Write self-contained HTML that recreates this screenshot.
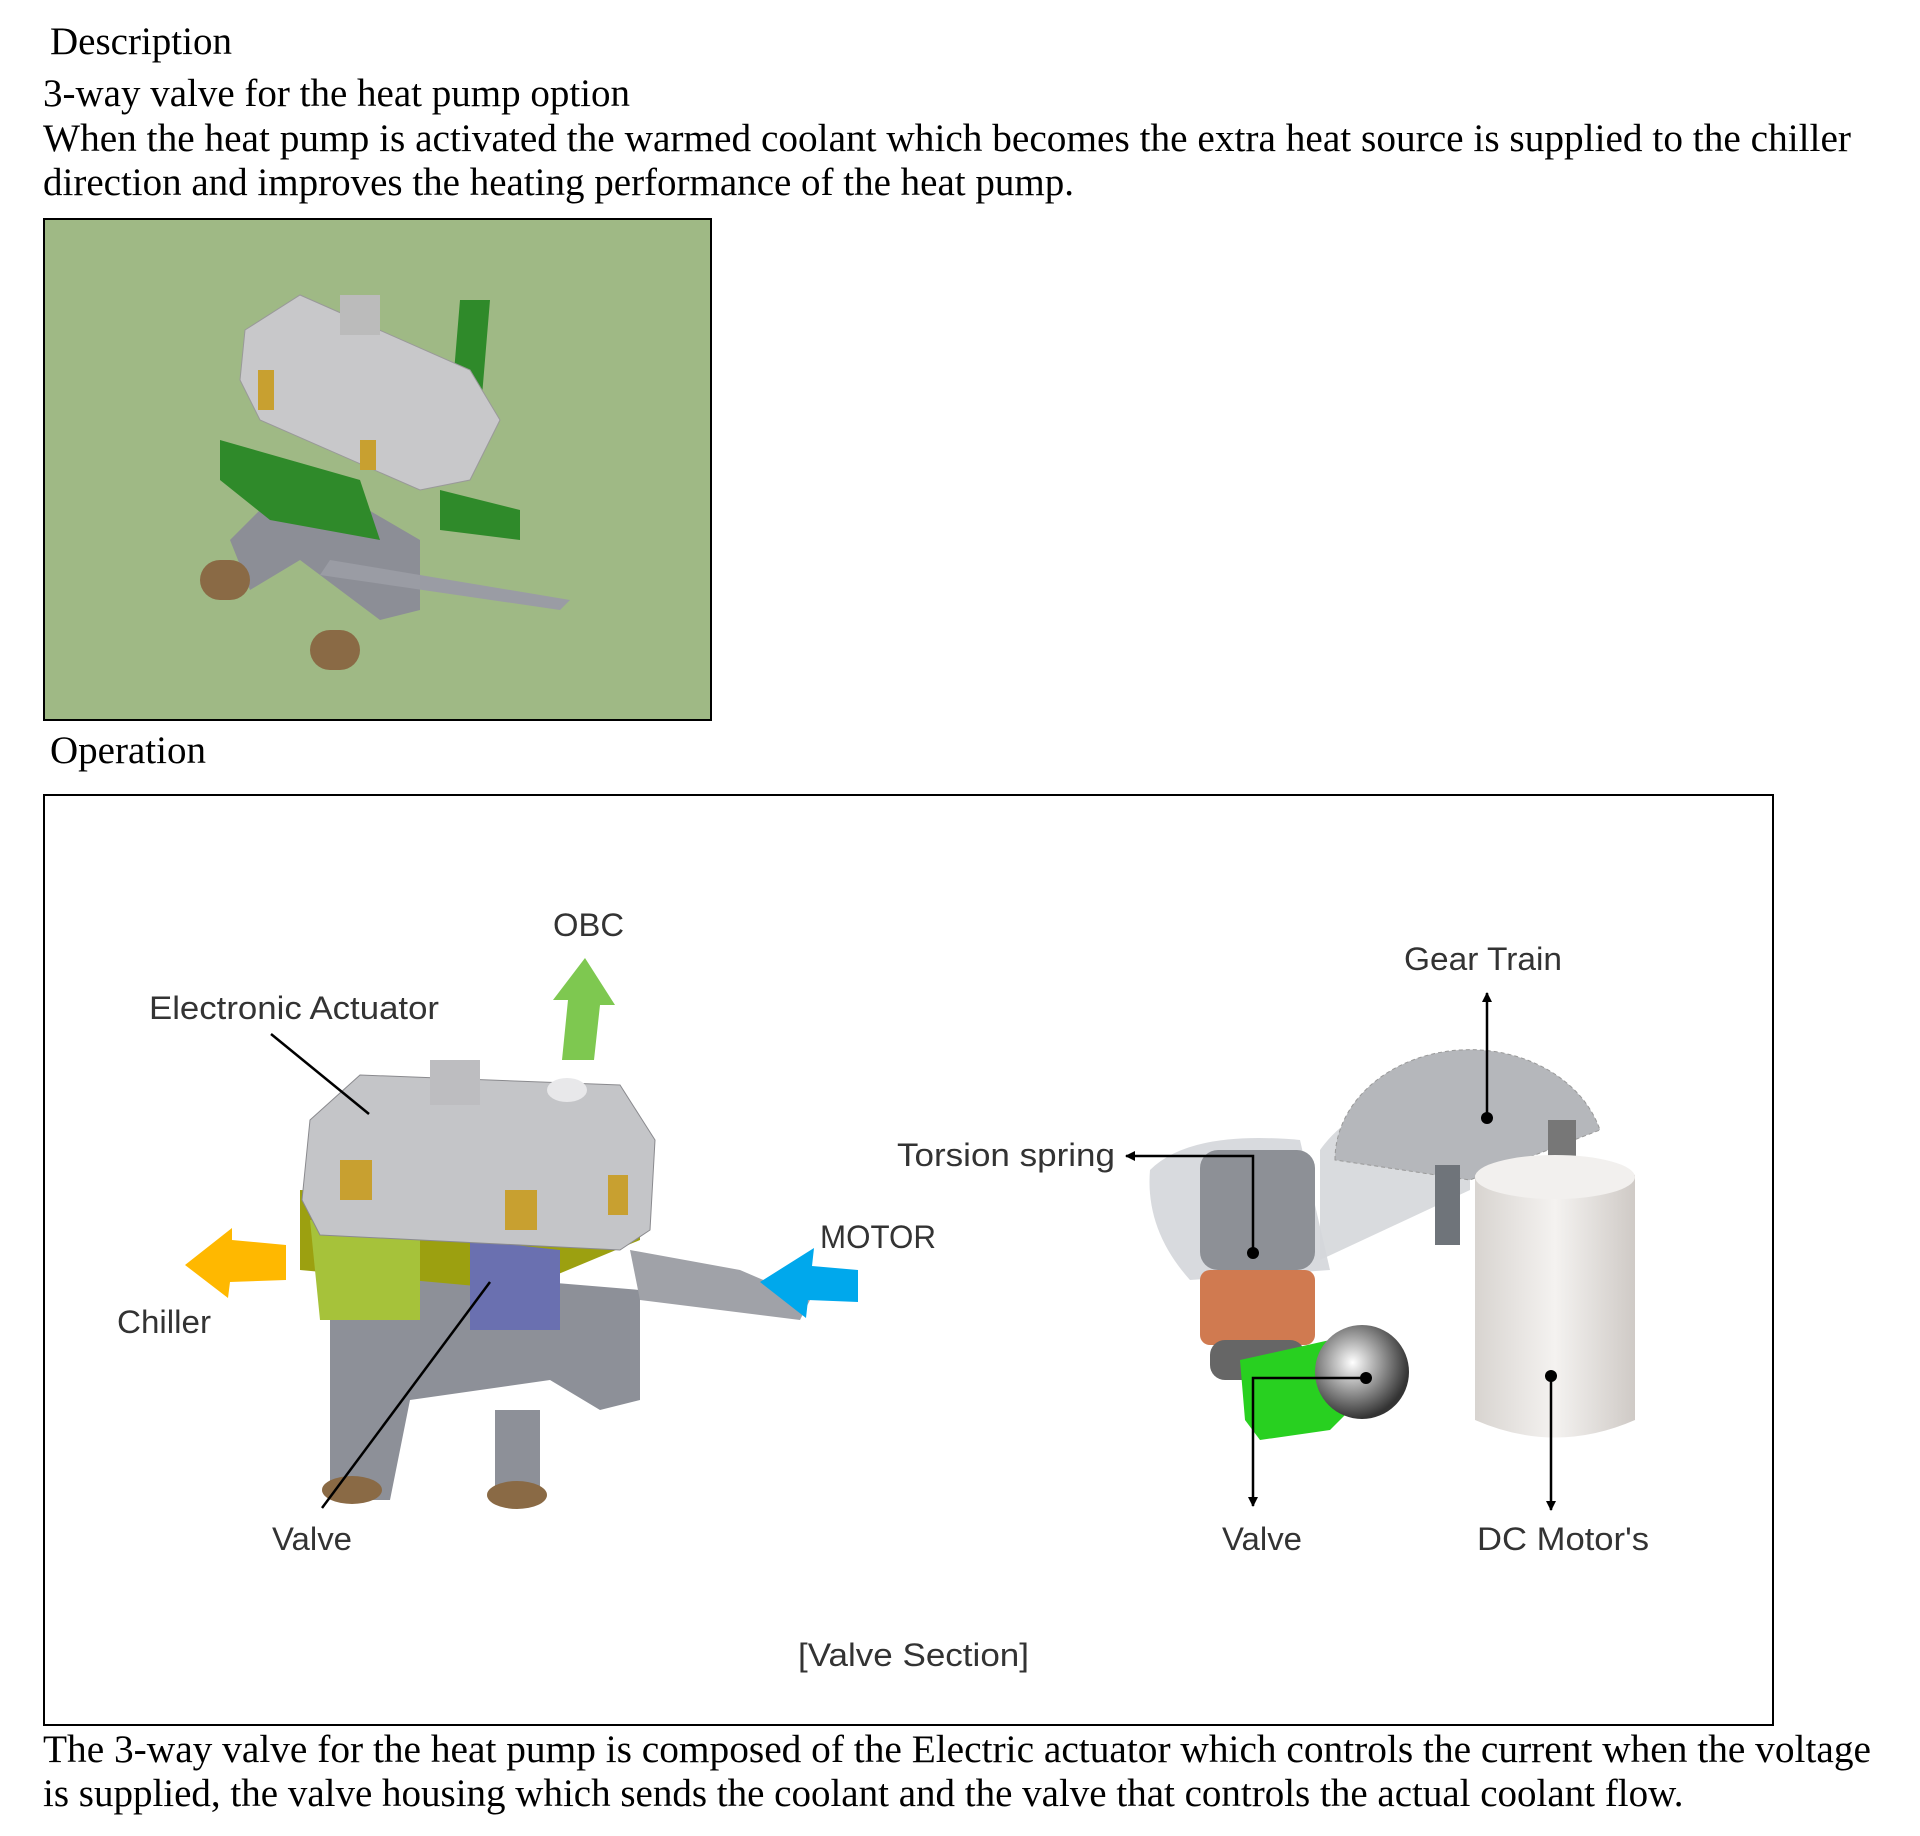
<!DOCTYPE html>
<html><head><meta charset="utf-8"><style>
html,body{margin:0;padding:0;background:#fff;}
body{width:1920px;height:1836px;position:relative;overflow:hidden;}
svg{position:absolute;left:0;top:0;}
.s{font-family:"Liberation Serif",serif;font-size:39px;fill:#000;}
.l{font-family:"Liberation Sans",sans-serif;font-size:32px;fill:#333;}
</style></head><body>
<svg width="1920" height="1836" viewBox="0 0 1920 1836">
<defs>
<marker id="ah" markerWidth="10" markerHeight="10" refX="9" refY="5" orient="auto" markerUnits="userSpaceOnUse"><path d="M0,0 L10,5 L0,10 Z" fill="#000"/></marker>
<linearGradient id="cyl" x1="0" x2="1"><stop offset="0" stop-color="#d8d4d0"/><stop offset="0.5" stop-color="#f4f2f0"/><stop offset="1" stop-color="#cfcac6"/></linearGradient>
<radialGradient id="ball" cx="0.4" cy="0.4" r="0.6"><stop offset="0" stop-color="#fff"/><stop offset="0.5" stop-color="#999"/><stop offset="1" stop-color="#333"/></radialGradient>
</defs>
<text class="s" x="50" y="54">Description</text>
<text class="s" x="43" y="106">3-way valve for the heat pump option</text>
<text class="s" x="43" y="151" textLength="1808" lengthAdjust="spacingAndGlyphs">When the heat pump is activated the warmed coolant which becomes the extra heat source is supplied to the chiller</text>
<text class="s" x="43" y="195">direction and improves the heating performance of the heat pump.</text>

<rect x="44" y="219" width="667" height="501" fill="#9fb985" stroke="#000" stroke-width="2"/>
<g>
<path d="M230,540 L300,470 L420,540 L420,610 L380,620 L300,560 L250,590 Z" fill="#8c8e96"/>
<path d="M330,560 L570,600 L560,610 L320,575Z" fill="#9a9ca4"/>
<rect x="200" y="560" width="50" height="40" rx="20" fill="#8a6a45"/>
<rect x="310" y="630" width="50" height="40" rx="20" fill="#8a6a45"/>
<path d="M220,440 L360,480 L380,540 L270,520 L220,480Z" fill="#2f8a2a"/>
<path d="M440,490 L520,510 L520,540 L440,530Z" fill="#2f8a2a"/>
<path d="M460,300 L490,300 L480,420 L450,420Z" fill="#2f8a2a"/>
<path d="M245,330 L300,295 L470,370 L500,420 L470,480 L420,490 L260,420 L240,380Z" fill="#c8c8ca" stroke="#999"/>
<rect x="340" y="295" width="40" height="40" fill="#bbb"/>
<rect x="258" y="370" width="16" height="40" fill="#c8a030"/>
<rect x="360" y="440" width="16" height="30" fill="#c8a030"/>
</g>

<text class="s" x="50" y="763">Operation</text>
<rect x="44" y="795" width="1729" height="930" fill="#fff" stroke="#000" stroke-width="2"/>

<g>
<path d="M330,1300 L400,1270 L640,1290 L640,1400 L600,1410 L550,1380 L410,1400 L390,1500 L350,1500 L330,1420Z" fill="#8d9098"/>
<rect x="330" y="1400" width="45" height="90" fill="#8d9098"/>
<rect x="495" y="1410" width="45" height="90" fill="#8d9098"/>
<ellipse cx="352" cy="1490" rx="30" ry="14" fill="#8a6a45"/>
<ellipse cx="517" cy="1495" rx="30" ry="14" fill="#8a6a45"/>
<path d="M630,1250 L740,1270 L810,1300 L800,1320 L640,1300Z" fill="#a0a2a8"/>
<path d="M300,1190 L640,1200 L640,1240 L520,1290 L300,1270Z" fill="#9ca010"/>
<path d="M310,1220 L420,1230 L420,1320 L320,1320Z" fill="#a6c23a"/>
<path d="M470,1240 L560,1250 L560,1330 L470,1330Z" fill="#6a70b0"/>
<path d="M310,1120 L360,1075 L620,1085 L655,1140 L650,1230 L620,1250 L320,1235 L302,1200Z" fill="#c4c5c8" stroke="#8a8a8e"/>
<rect x="430" y="1060" width="50" height="45" fill="#bdbdc0"/>
<rect x="340" y="1160" width="32" height="40" fill="#c8a030"/>
<rect x="505" y="1190" width="32" height="40" fill="#c8a030"/>
<rect x="608" y="1175" width="20" height="40" fill="#c8a030"/>
<ellipse cx="567" cy="1090" rx="20" ry="12" fill="#e8e8ea"/>
</g>
<path d="M562,1060 L568,1000 L553,1000 L585,958 L615,1005 L600,1005 L594,1060Z" fill="#7ec850"/>
<path d="M286,1245 L232,1240 L232,1228 L185,1265 L228,1298 L230,1282 L286,1280Z" fill="#ffb800"/>
<path d="M858,1270 L812,1266 L814,1248 L760,1282 L806,1318 L808,1300 L858,1302Z" fill="#00a8ec"/>

<g>
<path d="M1320,1150 Q1370,1080 1470,1120 L1470,1190 L1320,1260Z" fill="#d0d2d6" opacity="0.8"/>
<path d="M1335,1160 A135,110 0 0 1 1600,1130 L1470,1180Z" fill="#b5b7bb" stroke="#999" stroke-dasharray="4,3"/>
<path d="M1150,1170 Q1190,1130 1300,1140 L1330,1270 L1190,1280 Q1145,1230 1150,1170Z" fill="#d4d6da" opacity="0.9"/>
<rect x="1200" y="1150" width="115" height="120" rx="18" fill="#8d9096"/>
<rect x="1200" y="1270" width="115" height="75" rx="10" fill="#d07a50"/>
<rect x="1210" y="1340" width="95" height="40" rx="15" fill="#666"/>
<path d="M1240,1360 L1330,1340 L1360,1400 L1330,1430 L1260,1440 L1245,1420Z" fill="#28d020"/>
<circle cx="1362" cy="1372" r="47" fill="url(#ball)"/>
<rect x="1435" y="1165" width="25" height="80" fill="#6f747a"/>
<rect x="1548" y="1120" width="28" height="45" fill="#777"/>
<path d="M1475,1175 Q1555,1140 1635,1175 L1635,1420 Q1555,1455 1475,1420Z" fill="url(#cyl)"/>
<ellipse cx="1555" cy="1177" rx="80" ry="22" fill="#f2f0ee"/>
</g>

<g stroke="#000" stroke-width="2.5" fill="none">
<line x1="271" y1="1034" x2="369" y2="1114"/>
<line x1="322" y1="1508" x2="490" y2="1282"/>
<polyline points="1253,1253 1253,1156 1126,1156" marker-end="url(#ah)"/>
<line x1="1487" y1="1118" x2="1487" y2="993" marker-end="url(#ah)"/>
<polyline points="1366,1378 1253,1378 1253,1506" marker-end="url(#ah)"/>
<line x1="1551" y1="1376" x2="1551" y2="1510" marker-end="url(#ah)"/>
</g>
<g fill="#000"><circle cx="1253" cy="1253" r="6"/><circle cx="1487" cy="1118" r="6"/><circle cx="1366" cy="1378" r="6"/><circle cx="1551" cy="1376" r="6"/></g>

<text class="l" x="553" y="936" textLength="71" lengthAdjust="spacingAndGlyphs">OBC</text>
<text class="l" x="149" y="1019" textLength="290" lengthAdjust="spacingAndGlyphs">Electronic Actuator</text>
<text class="l" x="117" y="1333" textLength="94" lengthAdjust="spacingAndGlyphs">Chiller</text>
<text class="l" x="272" y="1550" textLength="80" lengthAdjust="spacingAndGlyphs">Valve</text>
<text class="l" x="820" y="1248" textLength="116" lengthAdjust="spacingAndGlyphs">MOTOR</text>
<text class="l" x="897" y="1166" textLength="218" lengthAdjust="spacingAndGlyphs">Torsion spring</text>
<text class="l" x="1404" y="970" textLength="158" lengthAdjust="spacingAndGlyphs">Gear Train</text>
<text class="l" x="1222" y="1550" textLength="80" lengthAdjust="spacingAndGlyphs">Valve</text>
<text class="l" x="1477" y="1550" textLength="172" lengthAdjust="spacingAndGlyphs">DC Motor's</text>
<text class="l" x="798" y="1666" textLength="231" lengthAdjust="spacingAndGlyphs">[Valve Section]</text>

<text class="s" x="43" y="1762" textLength="1828" lengthAdjust="spacingAndGlyphs">The 3-way valve for the heat pump is composed of the Electric actuator which controls the current when the voltage</text>
<text class="s" x="43" y="1806">is supplied, the valve housing which sends the coolant and the valve that controls the actual coolant flow.</text>
</svg>
</body></html>
